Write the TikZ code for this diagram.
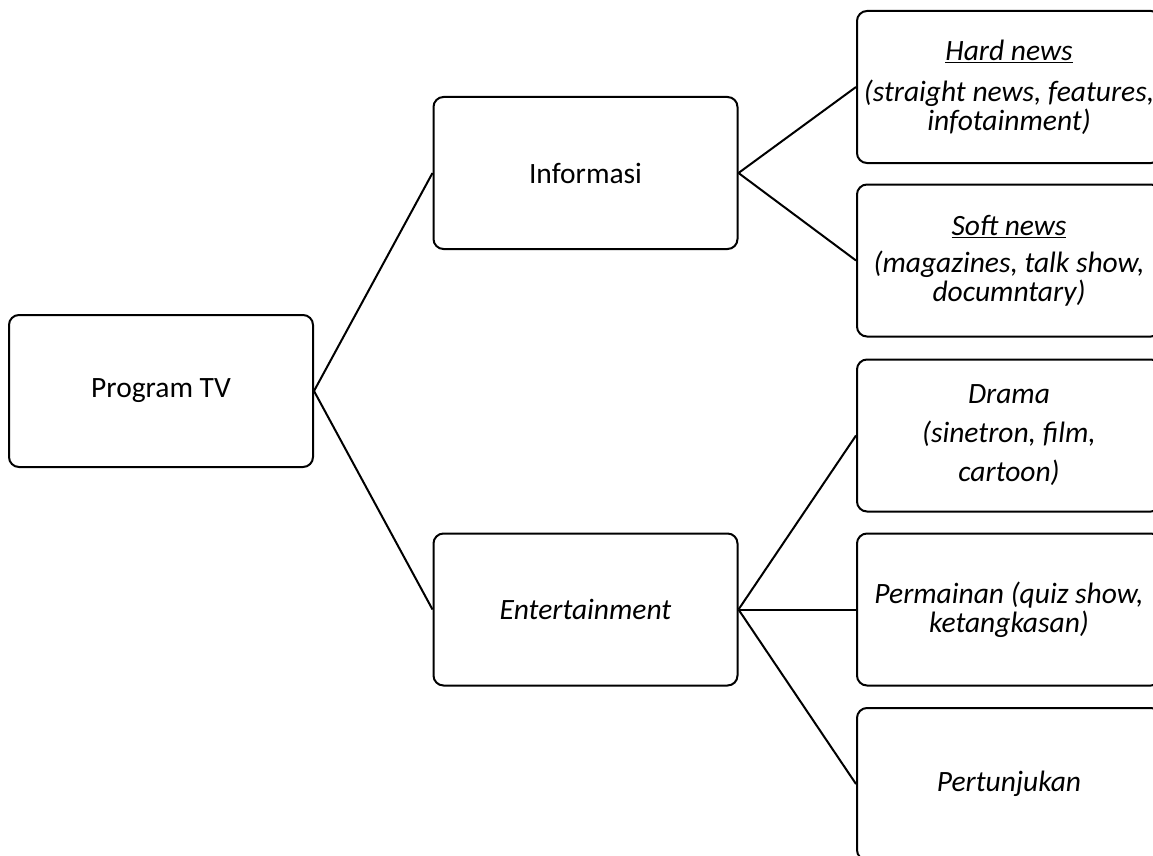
\documentclass[tikz,border=0pt]{standalone}
\usepackage{fontspec}
\setmainfont{Carlito}
\tikzset{>=latex}
\tikzset{prog box/.style={draw,line width=2pt,rounded corners=10pt,
    minimum width=304pt,minimum height=152pt,inner sep=0pt,align=center,
    font=\fontsize{29.5}{29}\selectfont}}

\begin{document}
\begin{tikzpicture}[x=1pt,y=-1pt]
  \useasboundingbox (0,0) rectangle (1153,856);
  % root and second level
  \node[prog box] (prog) at (161,391) {Program TV};
  \node[prog box] (info) at (585.5,173) {Informasi};
  \node[prog box] (ent)  at (585.5,609.5) {\textit{Entertainment}};

  % third level
  \node[prog box] (hard) at (1009,87)
    {\underline{\textit{Hard news}}\\[12pt]\textit{(straight news, features,}\\\textit{infotainment)}};
  \node[prog box] (soft) at (1009,260.5)
    {\underline{\textit{Soft news}}\\[8pt]\textit{(magazines, talk show,}\\\textit{documntary)}};
  \node[prog box] (drama) at (1009,435.5)
    {\textit{Drama}\\[10pt]\textit{(sinetron, film,}\\[10pt]\textit{cartoon)}};
  \node[prog box] (game) at (1009,609.5)
    {\textit{Permainan (quiz show,}\\\textit{ketangkasan)}};
  \node[prog box] (show) at (1009,784) {\textit{Pertunjukan}};

  \draw[line width=2pt] (prog.east) -- (info.west);
  \draw[line width=2pt] (prog.east) -- (ent.west);

  \draw[line width=2pt] (info.east) -- (hard.west);
  \draw[line width=2pt] (info.east) -- (soft.west);

  \draw[line width=2pt] (ent.east) -- (drama.west);
  \draw[line width=2pt] (ent.east) -- (game.west);
  \draw[line width=2pt] (ent.east) -- (show.west);
\end{tikzpicture}
\end{document}
